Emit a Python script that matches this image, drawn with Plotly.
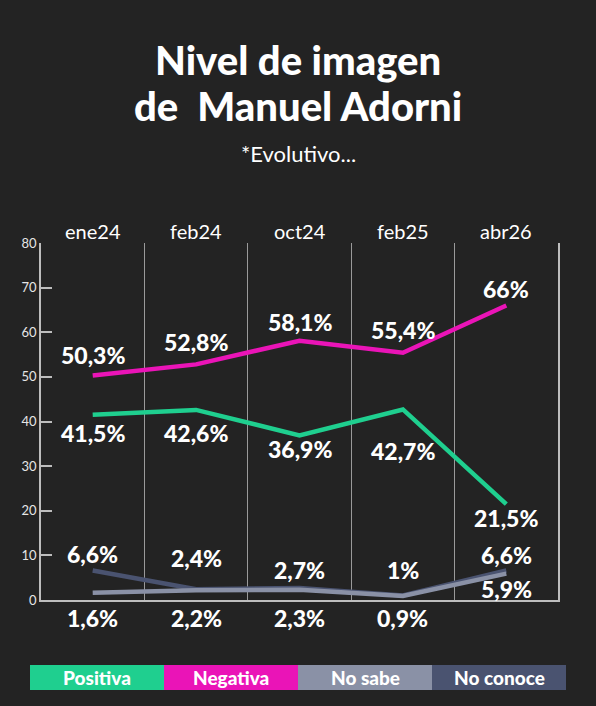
import plotly.graph_objects as go

# Data
periodos = ["ene24", "feb24", "oct24", "feb25", "abr26"]
positiva = [41.5, 42.6, 36.9, 42.7, 21.5]
negativa = [50.3, 52.8, 58.1, 55.4, 66]
no_sabe = [1.6, 2.2, 2.3, 0.9, 5.9]
no_conoce = [6.6, 2.4, 2.7, 1, 6.6]
ticks_y = [0, 10, 20, 30, 40, 50, 60, 70, 80]

# Colours
colores = {
    "Positiva": "#1fcf8f",
    "Negativa": "#ea14b7",
    "No sabe": "#8a91a6",
    "No conoce": "#4a5370",
}

# label offsets in px (style only)
desplazamientos = {
    "No conoce": [17, 31, 18, 26, 16],
    "No sabe": [-25, -28, -28, -22, -15],
    "Positiva": [-18, -23, -14, -42, -14],
    "Negativa": [21, 22, 19, 23, 16],
}

series = [
    ("No conoce", no_conoce),
    ("No sabe", no_sabe),
    ("Positiva", positiva),
    ("Negativa", negativa),
]

BG = "#232323"
W, H = 596, 706
L, R, T, B = 41, 38, 243, 106


def px_x(p):
    return (p - L) / (W - L - R)


def px_y(q):
    return (H - B - q) / (H - T - B)


def fmt(v):
    return f"{v:g}".replace(".", ",") + "%"


def texto(x, y, t, size, weight=400, xref="paper", yref="paper", dy=0):
    return dict(
        x=x, y=y, xref=xref, yref=yref, text=t, showarrow=False,
        xanchor="center", yanchor="middle", yshift=dy,
        font=dict(family="Lato", size=size, color="white", weight=weight),
    )


fig = go.Figure()

for nombre, valores in series:
    fig.add_trace(go.Scatter(
        x=periodos, y=valores, mode="lines", name=nombre,
        line=dict(color=colores[nombre], width=4.5),
        hoverinfo="skip", showlegend=False,
    ))

anotaciones = []
for nombre, valores in series:
    for per, v, dy in zip(periodos, valores, desplazamientos[nombre]):
        anotaciones.append(texto(per, v, fmt(v), 23, 900, "x", "y", dy))

# column headers
for per in periodos:
    anotaciones.append(texto(per, px_y(231), per, 20, 400, "x", "paper"))

# title
anotaciones.append(texto(px_x(298), px_y(60), "Nivel de imagen", 40, 900))
anotaciones.append(texto(px_x(298), px_y(106), "de  Manuel Adorni", 40, 900))
anotaciones.append(texto(px_x(298), px_y(153), "*Evolutivo...", 22))

# custom legend
formas = []
orden = ["Positiva", "Negativa", "No sabe", "No conoce"]
x0, ancho = 30, 134
for i, nombre in enumerate(orden):
    a, b = x0 + i * ancho, x0 + (i + 1) * ancho
    formas.append(dict(
        type="rect", xref="paper", yref="paper",
        x0=px_x(a), x1=px_x(b), y0=px_y(690), y1=px_y(665),
        fillcolor=colores[nombre], line=dict(width=0), layer="above",
    ))
    anotaciones.append(texto(px_x((a + b) / 2), px_y(677.5), nombre, 19, 900))

fig.update_layout(
    width=W, height=H,
    margin=dict(l=L, r=R, t=T, b=B),
    paper_bgcolor=BG, plot_bgcolor=BG,
    annotations=anotaciones, shapes=formas,
    showlegend=False,
)
fig.update_xaxes(
    type="category", range=[-0.5, 4.5], tickson="boundaries",
    showgrid=True, gridcolor="#9a9a9a", gridwidth=1,
    showline=True, linecolor="#bdbdbd", linewidth=1.5,
    showticklabels=False, ticks="", fixedrange=True,
)
fig.update_yaxes(
    range=[0, 80], tickvals=ticks_y, showgrid=False, zeroline=False,
    showline=True, mirror=True, linecolor="#bdbdbd", linewidth=1.5,
    ticks="inside", ticklen=11, tickcolor="#bdbdbd", tickwidth=1.5,
    tickfont=dict(family="Lato", size=13, color="#e6e6e6"),
    fixedrange=True,
)

fig.write_html(
    "out.html",
    config={"displayModeBar": False},
    post_script="document.body.style.margin='0';",
)
